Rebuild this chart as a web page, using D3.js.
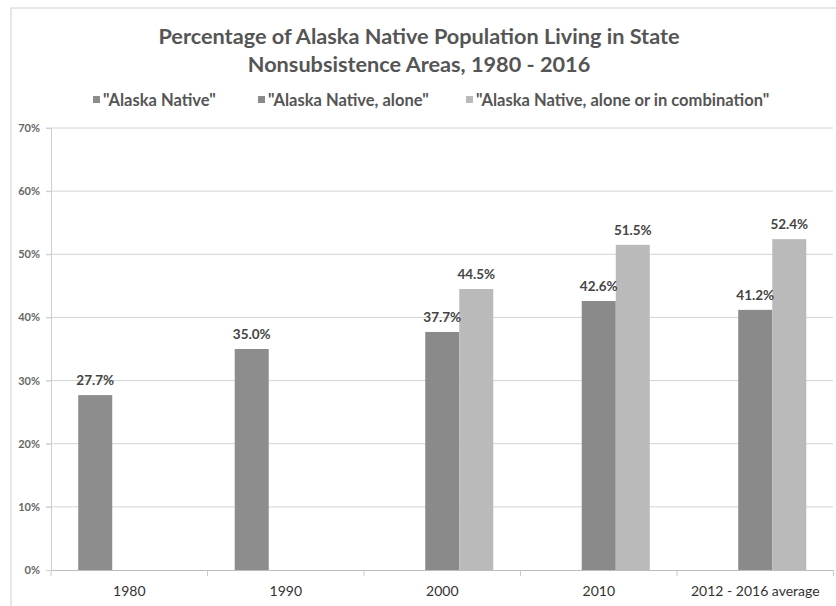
<!DOCTYPE html>
<html><head><meta charset="utf-8">
<script src="https://cdn.jsdelivr.net/npm/d3@7"></script>
<style>body{margin:0;background:#fff}svg{display:block}</style>
</head><body>
<script>
const categories = ["1980","1990","2000","2010","2012 - 2016 average"];
const seriesNames = ['"Alaska Native"','"Alaska Native, alone"','"Alaska Native, alone or in combination"'];
const alaskaNative = [27.7, 35.0, null, null, null];
const nativeAlone = [null, null, 37.7, 42.6, 41.2];
const nativeAloneOrCombo = [null, null, 44.5, 51.5, 52.4];
const yTicks = [0,10,20,30,40,50,60,70];
const titleLines = ["Percentage of Alaska Native Population Living in State","Nonsubsistence Areas, 1980 - 2016"];
const colors = ["#8d8d8d","#8a8a8a","#bababa"];

const seriesValues = [alaskaNative, nativeAlone, nativeAloneOrCombo];
const W = 836, H = 606;
const font = "Lato, 'Open Sans', sans-serif";
const svg = d3.select("body").append("svg").attr("width", W).attr("height", H);

svg.append("rect").attr("x",11).attr("y",8).attr("width",W).attr("height",H)
  .attr("fill","#fff").attr("stroke","#cfcfcf");

const x0 = d3.scaleBand().domain(categories).range([51, 833.5]).padding(0);
const x1 = d3.scaleBand().domain(seriesNames).range([0, x0.bandwidth()]).paddingInner(0).paddingOuter(0.8);
const y = d3.scaleLinear().domain([0, 70]).range([570, 128]);

// title
svg.append("g").selectAll("text").data(titleLines).join("text")
  .attr("x", 419).attr("y", (d,i)=> 44 + i*28)
  .attr("text-anchor","middle").attr("font-family",font).attr("font-weight","bold")
  .attr("font-size",21.7).attr("fill","#555").text(d=>d);

// legend
const legendX = [93, 258, 466];
const lg = svg.append("g").selectAll("g").data(seriesNames).join("g")
  .attr("transform",(d,i)=>`translate(${legendX[i]},100)`);
lg.append("rect").attr("x",0).attr("y",-4).attr("width",7).attr("height",7).attr("fill",(d,i)=>colors[i]);
lg.append("text").attr("x",10).attr("y",5.5).attr("font-family",font).attr("font-weight","bold")
  .attr("font-size",16.5).attr("fill","#555").text(d=>d);

// gridlines
svg.append("g").selectAll("line").data(yTicks.filter(t=>t>0)).join("line")
  .attr("x1",46).attr("x2",833).attr("y1",d=>y(d)).attr("y2",d=>y(d))
  .attr("stroke","#d4d4d4").attr("stroke-width",1);

// y axis
const yAxis = svg.append("g").attr("transform","translate(51,0)")
  .call(d3.axisLeft(y).tickValues(yTicks).tickFormat(d=>d+"%").tickSize(5).tickPadding(6));
yAxis.select(".domain").attr("stroke","#cfcfcf");
yAxis.selectAll(".tick line").attr("stroke","#cfcfcf");
yAxis.selectAll("text").attr("font-family",font).attr("font-weight","bold").attr("font-size",11).attr("fill","#666");

// x axis
const xAxis = svg.append("g").attr("transform","translate(0,570)")
  .call(d3.axisBottom(x0).tickSize(0).tickPadding(16));
xAxis.select(".domain").attr("stroke","#bdbdbd");
xAxis.selectAll("text").attr("font-family",font).attr("font-size",14).attr("fill","#333");
svg.append("g").selectAll("line").data(categories.concat([null])).join("line")
  .attr("x1",(d,i)=>51 + i*x0.step()).attr("x2",(d,i)=>51 + i*x0.step())
  .attr("y1",570).attr("y2",576).attr("stroke","#c8c8c8");

// bars
const flat = [];
categories.forEach((c,ci)=>seriesNames.forEach((s,si)=>{
  const v = seriesValues[si][ci];
  if (v != null) flat.push({c, s, si, v});
}));
const bars = svg.append("g");
bars.selectAll("rect").data(flat).join("rect")
  .attr("x",d=>x0(d.c)+x1(d.s)).attr("width",x1.bandwidth())
  .attr("y",d=>y(d.v)).attr("height",d=>y(0)-y(d.v))
  .attr("fill",d=>colors[d.si]);
bars.selectAll("text").data(flat).join("text")
  .attr("x",d=>x0(d.c)+x1(d.s)+x1.bandwidth()/2).attr("y",d=>y(d.v)-10)
  .attr("text-anchor","middle").attr("font-family",font).attr("font-weight","bold")
  .attr("font-size",13.5).attr("fill","#444").text(d=>d.v.toFixed(1)+"%");
</script>
</body></html>
